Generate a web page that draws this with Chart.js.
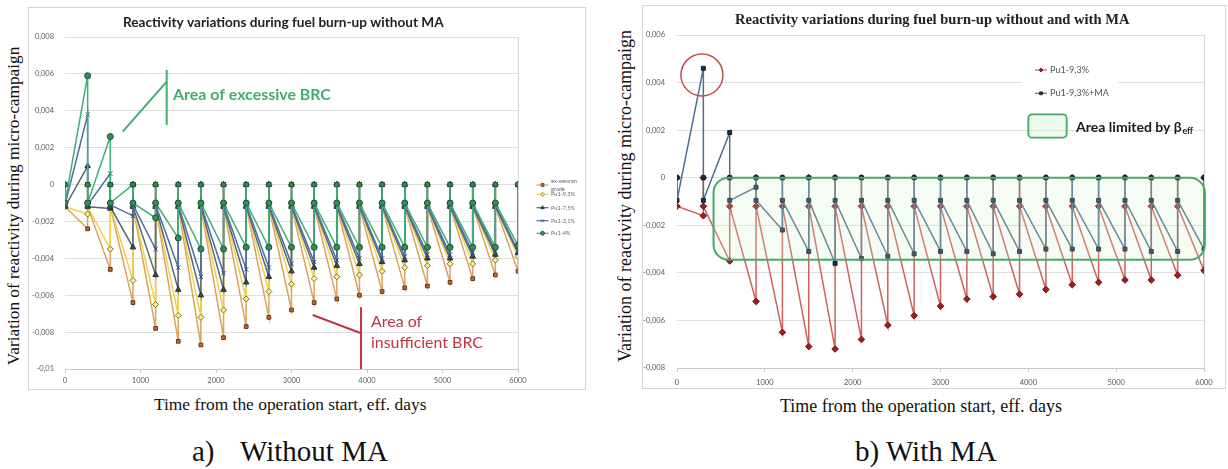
<!DOCTYPE html>
<html>
<head>
<meta charset="utf-8">
<script src="https://cdn.jsdelivr.net/npm/chart.js@4.4.1/dist/chart.umd.min.js"></script>
<style>
body { margin: 0; background: #fff; width: 1228px; height: 469px; position: relative; overflow: hidden; }
canvas { position: absolute; }
.serif { position: absolute; font-family: "Liberation Serif", serif; color: #111; white-space: nowrap; line-height: 1; }
.ytitle { transform: translate(-50%, -50%) rotate(-90deg); }
</style>
</head>
<body>
<canvas id="chartA" width="558" height="383" style="left:28px;top:7px"></canvas>
<canvas id="chartB" width="584" height="384" style="left:642px;top:5px"></canvas>

<div class="serif ytitle" style="left:14px;top:206px;font-size:17.3px">Variation of reactivity during micro-campaign</div>
<div class="serif" style="left:154px;top:396px;font-size:17.4px">Time from the operation start, eff. days</div>
<div class="serif ytitle" style="left:625px;top:196px;font-size:18px">Variation of reactivity during micro-campaign</div>
<div class="serif" style="left:780px;top:397px;font-size:18px">Time from the operation start, eff. days</div>
<div class="serif" style="left:192px;top:437px;font-size:29px">a)</div>
<div class="serif" style="left:240px;top:437px;font-size:29px">Without MA</div>
<div class="serif" style="left:855px;top:437px;font-size:29px">b) With MA</div>

<script>
"use strict";
// reload steps, eff. days
const days = [0, 300, 600, 900, 1200, 1500, 1800, 2100, 2400, 2700, 3000,
    3300, 3600, 3900, 4200, 4500, 4800, 5100, 5400, 5700, 6000];

// reactivity at the end of each micro-campaign (null = no campaign before t=0)
const exWeapon = [null, -0.0024, -0.0046, -0.0064, -0.0078, -0.0085, -0.0087, -0.0083, -0.0077, -0.0072, -0.0068,
    -0.0064, -0.0062, -0.0060, -0.0058, -0.0056, -0.0055, -0.0053, -0.0051, -0.0049, -0.0047];
const pu93 = [null, -0.0016, -0.0035, -0.0052, -0.0065, -0.0071, -0.0072, -0.0068, -0.0062, -0.0058, -0.0054,
    -0.0051, -0.0050, -0.0049, -0.0047, -0.0045, -0.0044, -0.0043, -0.0043, -0.0041, -0.0039];
const pu75 = [null, 0.0010, -0.0013, -0.0034, -0.0049, -0.0057, -0.0060, -0.0057, -0.0053, -0.0050, -0.0047,
    -0.0045, -0.0044, -0.0043, -0.0042, -0.0041, -0.0040, -0.0040, -0.0039, -0.0038, -0.0037];
const pu31 = [null, 0.0038, 0.0006, -0.0017, -0.0035, -0.0045, -0.0050, -0.0048, -0.0046, -0.0045, -0.0043,
    -0.0042, -0.0041, -0.0040, -0.0040, -0.0039, -0.0038, -0.0038, -0.0037, -0.0036, -0.0036];
const pu4 = [null, 0.0059, 0.0026, 0.0000, -0.0018, -0.0029, -0.0035, -0.0035, -0.0034, -0.0034, -0.0034,
    -0.0034, -0.0034, -0.0034, -0.0034, -0.0034, -0.0034, -0.0034, -0.0034, -0.0034, -0.0033];
const pu93MA = [null, 0.0046, 0.0019, -0.0004, -0.0022, -0.0031, -0.0036, -0.0034, -0.0033, -0.0032, -0.0031,
    -0.0031, -0.0032, -0.0031, -0.0030, -0.0030, -0.0030, -0.0030, -0.0031, -0.0031, -0.0030];

// reactivity right after each reload
const namesA = ["ex-wearon grade", "Pu1-9,3%", "Pu1-7,5%", "Pu1-3,1%", "Pu1-4%"];
const cycleStartA = [-0.0012, -0.0012, -0.0012, -0.0011, -0.0010];
const namesB = ["Pu1-9,3%", "Pu1-9,3%+MA"];
const cycleStartB = [-0.0012, -0.00095];

function sawtooth(mins, start) {
    const pts = [];
    days.forEach((d, i) => {
        if (mins[i] !== null) pts.push({ x: d, y: mins[i] });
        pts.push({ x: d, y: 0 });
        if (i < days.length - 1) pts.push({ x: d, y: start });
    });
    return pts;
}

function series(label, data, line, fill, edge, shape, radius, order) {
    return {
        label: label, data: data, showLine: true, tension: 0,
        borderColor: line, borderWidth: 1.5,
        pointStyle: shape, pointRadius: radius, pointBackgroundColor: fill,
        pointBorderColor: edge, pointBorderWidth: 1, order: order
    };
}

const seriesA = [
    series(namesA[0], sawtooth(exWeapon, cycleStartA[0]), "#dba25e", "#c46a32", "#5e3417", "rect", 2.6, 5),
    series(namesA[1], sawtooth(pu93, cycleStartA[1]), "#efd247", "#f8f0a0", "#7f6f10", "rectRot", 3, 4),
    series(namesA[2], sawtooth(pu75, cycleStartA[2]), "#56657a", "#3c4a5c", "#222c38", "triangle", 3.2, 3),
    series(namesA[3], sawtooth(pu31, cycleStartA[3]), "#4b6fa0", "#3a5a8a", "#2a4470", "crossRot", 3, 2),
    series(namesA[4], sawtooth(pu4, cycleStartA[4]), "#3fae78", "#2f8f5a", "#1c4f34", "circle", 3, 1)
];
seriesA[4].pointStyle = c => (c.raw && c.raw.y === 0 ? "rect" : "circle");

const seriesB = [
    series(namesB[0], sawtooth(pu93, cycleStartB[0]), "#d0605a", "#a01c20", "#6e1014", "rectRot", 3.3, 2),
    series(namesB[1], sawtooth(pu93MA, cycleStartB[1]), "#4f6d8c", "#1c2f4a", "#0f1a2a", "rect", 2.8, 1)
];

function fmtY(v) {
    const r = Math.round(v * 1000) / 1000;
    return r === 0 ? "0" : String(r).replace(".", ",");
}

function fitText(ctx, text, weight, family, width) {
    ctx.font = weight + " 20px " + family;
    const size = 20 * width / ctx.measureText(text).width;
    ctx.font = weight + " " + size + "px " + family;
    return size;
}

function roundedRect(ctx, x, y, w, h, r) {
    ctx.beginPath();
    ctx.moveTo(x + r, y);
    ctx.arcTo(x + w, y, x + w, y + h, r);
    ctx.arcTo(x + w, y + h, x, y + h, r);
    ctx.arcTo(x, y + h, x, y, r);
    ctx.arcTo(x, y, x + w, y, r);
    ctx.closePath();
}

function marker(ctx, ds, x, y) {
    ctx.strokeStyle = ds.borderColor;
    ctx.lineWidth = 1.2;
    ctx.beginPath(); ctx.moveTo(x - 6, y); ctx.lineTo(x + 6, y); ctx.stroke();
    ctx.fillStyle = ds.pointBackgroundColor;
    ctx.strokeStyle = ds.pointBorderColor;
    ctx.lineWidth = 0.8;
    const shape = typeof ds.pointStyle === "function" ? "circle" : ds.pointStyle;
    Chart.helpers.drawPoint(ctx, { pointStyle: shape, radius: 2, rotation: 0, borderWidth: 0.8 }, x, y);
}

function axisX(h, pad) {
    return {
        type: "linear", min: 0, max: 6000,
        ticks: { stepSize: 1000, padding: pad, color: "#595959", font: { family: "Lato", size: 7.5 }, callback: v => String(v) },
        grid: { drawOnChartArea: false, tickLength: 4, color: "#c8c8c8" },
        border: { color: "#c8c8c8" },
        afterFit: s => { s.height = h; }
    };
}

function axisY(min, max, w, pad) {
    return {
        min: min, max: max,
        ticks: { stepSize: 0.002, padding: pad, color: "#595959", font: { family: "Lato", size: 7.5 }, callback: fmtY },
        grid: { color: "#dedede", drawTicks: false },
        border: { display: false },
        afterFit: s => { s.width = w; }
    };
}

function frame(chart) {
    const { ctx, chartArea: a } = chart;
    ctx.save();
    ctx.strokeStyle = "#d4d4d4";
    ctx.lineWidth = 1;
    ctx.beginPath(); ctx.moveTo(a.right + 0.5, a.top); ctx.lineTo(a.right + 0.5, a.bottom); ctx.stroke();
    ctx.strokeRect(0.5, 0.5, chart.width - 1, chart.height - 1);
    ctx.restore();
}

const notesA = {
    id: "notesA",
    beforeDatasetsDraw(chart) { frame(chart); },
    afterDatasetsDraw(chart) {
        const { ctx, scales: { x, y } } = chart;
        const line = (t1, v1, t2, v2) => {
            ctx.beginPath();
            ctx.moveTo(x.getPixelForValue(t1), y.getPixelForValue(v1));
            ctx.lineTo(x.getPixelForValue(t2), y.getPixelForValue(v2));
            ctx.stroke();
        };
        ctx.save();
        ctx.fillStyle = "#222";
        ctx.textBaseline = "middle";
        fitText(ctx, "Reactivity variations during fuel burn-up without MA", "bold", "Lato", 321);
        ctx.fillText("Reactivity variations during fuel burn-up without MA", 95, 16);

        ctx.textBaseline = "alphabetic";
        ctx.strokeStyle = "#3fae6e"; ctx.lineWidth = 2;
        line(1347, 0.00621, 1347, 0.00323);
        line(764, 0.00287, 1347, 0.00558);
        ctx.fillStyle = "#3fae6e";
        fitText(ctx, "Area of excessive BRC", "bold", "Lato", 158);
        ctx.fillText("Area of excessive BRC", 145, 93);

        ctx.strokeStyle = "#c03545";
        line(3921, -0.00665, 3921, -0.0100);
        line(3281, -0.00707, 3921, -0.00806);
        ctx.fillStyle = "#c03545";
        fitText(ctx, "insufficient BRC", "normal", "Lato", 112);
        ctx.fillText("Area of", 343, 320);
        ctx.fillText("insufficient BRC", 343, 341);

        // legend
        const ds = chart.data.datasets;
        const rows = [178, 187.3, 200.7, 213.7, 226.3];
        ctx.textBaseline = "middle";
        ctx.fillStyle = "#666";
        ctx.font = "5.6px Lato";
        ctx.fillText("ex-wearon", 523, 173.7);
        ctx.fillText("grade", 523, 182.3);
        for (let i = 1; i < 5; i++) {
            ctx.fillStyle = "#666";
            ctx.fillText(ds[i].label, 523, rows[i]);
        }
        marker(ctx, ds[0], 514.5, rows[0]);
        for (let i = 1; i < 5; i++) marker(ctx, ds[i], 514.5, rows[i]);
        ctx.restore();
    }
};

const notesB = {
    id: "notesB",
    beforeDatasetsDraw(chart) {
        const ctx = chart.ctx;
        ctx.save();
        ctx.fillStyle = "#fff";
        ctx.fillRect(380, 53, 96, 47);
        ctx.restore();
        frame(chart);
    },
    afterDatasetsDraw(chart) {
        const { ctx, scales: { x, y } } = chart;
        ctx.save();
        // area limited by beta_eff
        const x1 = x.getPixelForValue(416), x2 = x.getPixelForValue(6010);
        const y1 = y.getPixelForValue(0), y2 = y.getPixelForValue(-0.00345);
        roundedRect(ctx, x1, y1, x2 - x1, y2 - y1, 15);
        ctx.fillStyle = "rgba(205, 242, 205, 0.22)";
        ctx.fill();
        ctx.strokeStyle = "#45a868"; ctx.lineWidth = 2;
        ctx.stroke();

        // circled peak
        ctx.beginPath();
        ctx.arc(x.getPixelForValue(284), y.getPixelForValue(0.00432), 21, 0, Math.PI * 2);
        ctx.strokeStyle = "#c0504d"; ctx.lineWidth = 1.5;
        ctx.stroke();

        ctx.fillStyle = "#222";
        ctx.textBaseline = "middle";
        const title = "Reactivity variations during fuel burn-up without and with MA";
        fitText(ctx, title, "bold", "'Liberation Serif'", 395);
        ctx.fillText(title, 93, 15);

        // legend
        const ds = chart.data.datasets;
        const rows = [65, 88.3];
        const size = fitText(ctx, "Pu1-9,3%", "normal", "Lato", 39);
        for (let i = 0; i < 2; i++) {
            ctx.font = size + "px Lato";
            ctx.fillStyle = "#555";
            ctx.fillText(ds[i].label, 408, rows[i]);
            marker(ctx, ds[i], 399, rows[i]);
        }
        roundedRect(ctx, 386.3, 109.3, 38.4, 23.4, 4);
        ctx.fillStyle = "rgba(205, 242, 205, 0.4)";
        ctx.fill();
        ctx.strokeStyle = "#45a868"; ctx.lineWidth = 1.8;
        ctx.stroke();
        ctx.fillStyle = "#1a1a1a";
        ctx.textBaseline = "alphabetic";
        const s = fitText(ctx, "Area limited by \u03b2", "bold", "Lato", 106);
        ctx.fillText("Area limited by \u03b2", 434, 127.3);
        ctx.font = "bold " + (s * 0.62) + "px Lato";
        ctx.fillText("eff", 434 + 106.5, 128.7);
        ctx.restore();
    }
};

new Chart(document.getElementById("chartA"), {
    type: "scatter",
    data: { datasets: seriesA },
    options: {
        responsive: false, animation: false, devicePixelRatio: 1,
        layout: { padding: { left: 0, top: 30, right: 68, bottom: 0 } },
        plugins: { legend: { display: false }, tooltip: { enabled: false } },
        scales: { x: axisX(21, 3), y: axisY(-0.01, 0.008, 37, 11) }
    },
    plugins: [notesA]
});

new Chart(document.getElementById("chartB"), {
    type: "scatter",
    data: { datasets: seriesB },
    options: {
        responsive: false, animation: false, devicePixelRatio: 1,
        layout: { padding: { left: 0, top: 30, right: 22, bottom: 0 } },
        plugins: { legend: { display: false }, tooltip: { enabled: false } },
        scales: { x: axisX(21, 6), y: axisY(-0.008, 0.006, 35, 12) }
    },
    plugins: [notesB]
});
</script>
</body>
</html>
